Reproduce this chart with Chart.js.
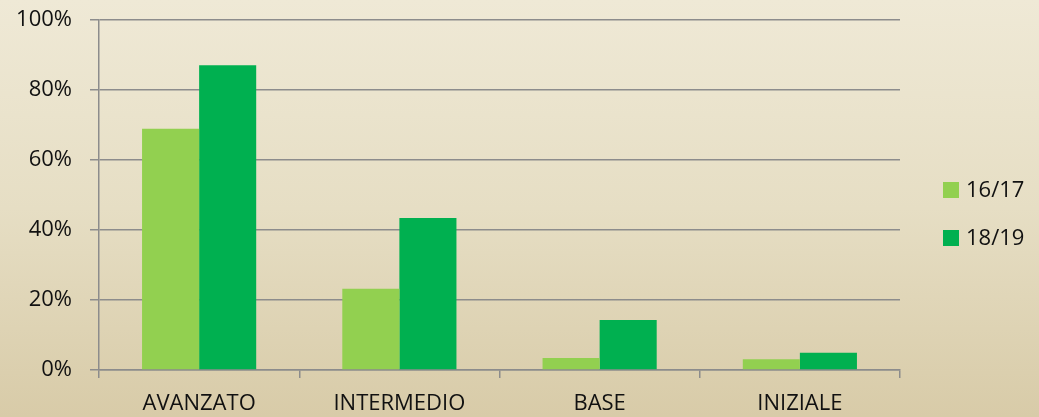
<!DOCTYPE html>
<html>
<head>
<meta charset="utf-8">
<script src="https://cdn.jsdelivr.net/npm/chart.js@4"></script>
<style>
    html, body { margin: 0; padding: 0; }
    body {
        width: 1039px;
        height: 417px;
        overflow: hidden;
        background: linear-gradient(to bottom, #efe9d6 0%, #e6dec4 50%, #d8cba8 100%);
    }
    #wrap { position: relative; width: 1039px; height: 417px; }
</style>
</head>
<body>
<div id="wrap"><canvas id="levelsChart" width="1039" height="417"></canvas></div>
<script>
// Chart data
const categories = ['AVANZATO', 'INTERMEDIO', 'BASE', 'INIZIALE'];
const seriesNames = ['16/17', '18/19'];
const values1617 = [68.9, 23.2, 3.4, 3.1];
const values1819 = [87.1, 43.4, 14.3, 4.9];
const yTicks = [0, 20, 40, 60, 80, 100];

const colors = ['#92d050', '#00b050'];
const gridColor = '#8c8c8c';
const fontFamily = '"Open Sans", Lato, sans-serif';
const fontSize = 22;

// Legend drawn at right side of the canvas
const sideLegend = {
    id: 'sideLegend',
    afterDraw(chart) {
        const ctx = chart.ctx;
        ctx.save();
        ctx.font = fontSize + 'px ' + fontFamily;
        ctx.textBaseline = 'middle';
        chart.data.datasets.forEach((ds, i) => {
            const y = 190 + i * 48;
            ctx.fillStyle = ds.backgroundColor;
            ctx.fillRect(943, y - 8, 16, 16);
            ctx.fillStyle = '#111';
            ctx.fillText(ds.label, 966, y + 1);
        });
        ctx.restore();
    }
};

document.addEventListener('DOMContentLoaded', function() {
    const ctx = document.getElementById('levelsChart');
    new Chart(ctx, {
        type: 'bar',
        data: {
            labels: categories,
            datasets: [
                { label: seriesNames[0], data: values1617, backgroundColor: colors[0] },
                { label: seriesNames[1], data: values1819, backgroundColor: colors[1] }
            ]
        },
        options: {
            responsive: false,
            animation: false,
            devicePixelRatio: 1,
            layout: { padding: { top: 20, right: 139, left: 0, bottom: 0 } },
            datasets: {
                bar: { categoryPercentage: 0.57, barPercentage: 1.0 }
            },
            plugins: {
                legend: { display: false },
                tooltip: { enabled: false }
            },
            scales: {
                x: {
                    grid: {
                        display: true,
                        drawOnChartArea: false,
                        drawTicks: true,
                        tickLength: 8,
                        color: gridColor,
                        lineWidth: 1.5
                    },
                    border: { color: gridColor, width: 1.5 },
                    ticks: {
                        color: '#111',
                        padding: 13,
                        font: { family: fontFamily, size: fontSize }
                    },
                    afterFit: function(scale) {
                        scale.height = 47;
                        scale.paddingLeft = 0;
                        scale.paddingRight = 0;
                    }
                },
                y: {
                    min: 0,
                    max: 100,
                    afterBuildTicks: function(scale) {
                        scale.ticks = yTicks.map(v => ({ value: v }));
                    },
                    grid: {
                        color: gridColor,
                        lineWidth: 1.5,
                        tickLength: 9
                    },
                    border: { color: gridColor, width: 1.5 },
                    ticks: {
                        color: '#111',
                        padding: 18,
                        font: { family: fontFamily, size: fontSize },
                        callback: function(value) { return value + '%'; }
                    },
                    afterFit: function(scale) {
                        scale.width = 99;
                        scale.paddingTop = 0;
                        scale.paddingBottom = 0;
                    }
                }
            }
        },
        plugins: [sideLegend]
    });
});
</script>
</body>
</html>
